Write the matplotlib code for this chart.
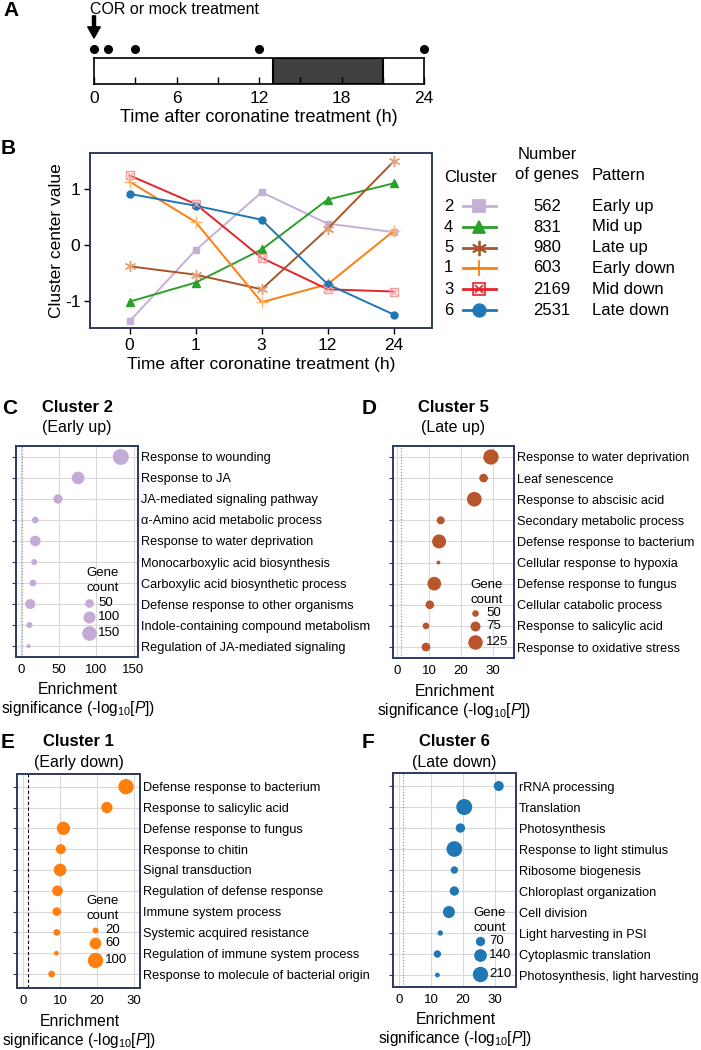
import numpy as np
import matplotlib
matplotlib.use("Agg")
import matplotlib.pyplot as plt
from matplotlib.lines import Line2D
from matplotlib.patches import Rectangle

# ---------------- data ----------------
# A: sampling scheme
sample_times = [0, 1, 3, 12, 24]
dark_period = (13, 21)
time_ticks = [0, 6, 12, 18, 24]
time_minor = [3, 9, 15, 21]

# B: cluster centre values
time_labels = ['0', '1', '3', '12', '24']
cluster_ids = ['2', '4', '5', '1', '3', '6']
cluster_ngenes = ['562', '831', '980', '603', '2169', '2531']
cluster_pattern = ['Early up', 'Mid up', 'Late up', 'Early down', 'Mid down', 'Late down']
center_c2 = [-1.36, -0.09, 0.94, 0.38, 0.23]
center_c4 = [-1.01, -0.67, -0.08, 0.81, 1.10]
center_c5 = [-0.38, -0.53, -0.79, 0.29, 1.49]
center_c1 = [1.13, 0.41, -1.02, -0.70, 0.25]
center_c3 = [1.24, 0.73, -0.23, -0.79, -0.83]
center_c6 = [0.91, 0.70, 0.45, -0.70, -1.24]

# C: cluster 2 GO terms
terms_c2 = ["Response to wounding", "Response to JA", "JA-mediated signaling pathway",
            "\u03b1-Amino acid metabolic process", "Response to water deprivation",
            "Monocarboxylic acid biosynthesis", "Carboxylic acid biosynthetic process",
            "Defense response to other organisms", "Indole-containing compound metabolism",
            "Regulation of JA-mediated signaling"]
logp_c2 = [133, 76, 49, 18.7, 18.7, 17.3, 15.6, 12, 11, 9.8]
count_c2 = [179, 111, 58, 29, 78, 22, 29, 68, 22, 8]

# D: cluster 5 GO terms
terms_c5 = ["Response to water deprivation", "Leaf senescence", "Response to abscisic acid",
            "Secondary metabolic process", "Defense response to bacterium",
            "Cellular response to hypoxia", "Defense response to fungus",
            "Cellular catabolic process", "Response to salicylic acid",
            "Response to oxidative stress"]
logp_c5 = [29.3, 27, 24.1, 13.6, 13.1, 12.9, 11.6, 10.2, 9, 9]
count_c5 = [137, 64, 128, 59, 119, 37, 115, 64, 50, 64]

# E: cluster 1 GO terms
terms_c1 = ["Defense response to bacterium", "Response to salicylic acid",
            "Defense response to fungus", "Response to chitin", "Signal transduction",
            "Regulation of defense response", "Immune system process",
            "Systemic acquired resistance", "Regulation of immune system process",
            "Response to molecule of bacterial origin"]
logp_c1 = [27.9, 22.7, 10.9, 10.2, 10, 9.3, 9.1, 9.1, 9.0, 7.7]
count_c1 = [100, 57, 77, 46, 70, 52, 36, 24, 15, 24]

# F: cluster 6 GO terms
terms_c6 = ["rRNA processing", "Translation", "Photosynthesis", "Response to light stimulus",
            "Ribosome biogenesis", "Chloroplast organization", "Cell division",
            "Light harvesting in PSI", "Cytoplasmic translation",
            "Photosynthesis, light harvesting"]
logp_c6 = [31.2, 20.4, 19.2, 17.3, 17.3, 17.3, 15.6, 12.9, 12, 12]
count_c6 = [82, 229, 70, 220, 39, 70, 124, 15, 39, 9]

# ---------------- figure ----------------
plt.rcParams['font.family'] = ['Liberation Sans', 'DejaVu Sans']
plt.rcParams['mathtext.fontset'] = 'custom'
plt.rcParams['mathtext.rm'] = 'Liberation Sans'
plt.rcParams['mathtext.it'] = 'Liberation Sans:italic'

W, H = 701, 1050
fig = plt.figure(figsize=(W / 100, H / 100), dpi=100)
NAVY = '#2b3a5e'


def px_axes(x0, y0, x1, y1):
    return fig.add_axes([x0 / W, 1 - y1 / H, (x1 - x0) / W, (y1 - y0) / H])


def ptext(x, y, s, **kw):
    kw.setdefault('va', 'center')
    return fig.text(x / W, 1 - y / H, s, **kw)


def pmark(x, y, **kw):
    fig.add_artist(Line2D([x / W], [1 - y / H], transform=fig.transFigure,
                          linestyle='none', **kw))


def pline(x0, x1, y, **kw):
    fig.add_artist(Line2D([x0 / W, x1 / W], [1 - y / H] * 2,
                          transform=fig.transFigure, **kw))


def letter(x, y, s):
    ptext(x, y, s, fontsize=15, fontweight='bold')


# ---- A ----
letter(3, 11, 'A')
axA = px_axes(94, 58, 424, 84)
axA.set_xlim(0, 24)
axA.set_ylim(0, 1)
axA.add_patch(Rectangle((dark_period[0], 0), dark_period[1] - dark_period[0], 1,
                        fc='#404040', ec='black', lw=1.5))
axA.plot(sample_times, [1.35] * len(sample_times), 'o', color='black', ms=5.5, clip_on=False)
axA.annotate('', xy=(0, 1.77), xytext=(0, 2.62),
             arrowprops=dict(facecolor='black', edgecolor='black', width=2.2,
                             headwidth=9, headlength=8, shrink=0),
             annotation_clip=False)
axA.set_xticks(time_ticks)
axA.set_xticks(time_minor, minor=True)
axA.set_yticks([])
axA.tick_params(axis='x', which='both', direction='in', length=5, width=1,
                labelsize=12.5, pad=5)
for sp in axA.spines.values():
    sp.set_linewidth(1.2)
ptext(90, 10, 'COR or mock treatment', fontsize=11.5)
ptext(259, 118, 'Time after coronatine treatment (h)', fontsize=13, ha='center')

# ---- B ----
letter(1, 148, 'B')
axB = px_axes(90, 153, 432, 328)
xpos = np.arange(len(time_labels))
series = [center_c2, center_c4, center_c5, center_c1, center_c3, center_c6]
line_col = ['#c5b0d5', '#2ca02c', '#a65628', '#ff7f0e', '#e3242b', '#1f77b4']
mark_col = ['#c5b0d5', '#2ca02c', '#e0a07a', '#ffb366', '#f4a0a0', '#1f77b4']
markers = ['s', '^', (6, 2, 0), '+', 's', 'o']
msizes = [5, 6, 8, 9, 5.5, 5]
for vals, lc, mc, mk, ms in zip(series, line_col, mark_col, markers, msizes):
    face = 'none' if lc == '#e3242b' else mc
    axB.plot(xpos, vals, color=lc, lw=1.4, marker=mk, ms=ms, mfc=face, mec=mc,
             mew=1.0, zorder=3)
    if lc == '#e3242b':
        axB.plot(xpos, vals, 'x', color=mc, ms=4.5, mew=0.9, zorder=4)
axB.set_xlim(-0.6, 4.58)
axB.set_ylim(-1.48, 1.64)
axB.set_xticks(xpos, time_labels)
axB.set_yticks([-1, 0, 1], ['-1', '0', '1'])
axB.tick_params(length=4, width=1, labelsize=12.5, pad=3, color='black')
for sp in axB.spines.values():
    sp.set_color(NAVY)
    sp.set_linewidth(1.4)
ptext(57, 241, 'Cluster center value', fontsize=12.5, rotation=90, ha='center')
ptext(261, 364, 'Time after coronatine treatment (h)', fontsize=12.5, ha='center')

# custom legend table
ptext(444, 178, 'Cluster', fontsize=12)
ptext(547, 154, 'Number', fontsize=12, ha='center')
ptext(547, 175, 'of genes', fontsize=12, ha='center')
ptext(592, 175, 'Pattern', fontsize=12)
row_y = [206, 227, 247.5, 268, 289, 310]
leg_ms = [8, 9, 11, 12, 8.5, 9]
for i, yy in enumerate(row_y):
    ptext(444, yy, cluster_ids[i], fontsize=12)
    pline(463, 496, yy, color=line_col[i], lw=2)
    mk = markers[i]
    if line_col[i] == '#e3242b':
        pmark(479, yy, marker='s', ms=leg_ms[i], mfc='none', mec=line_col[i], mew=1.2)
        pmark(479, yy, marker='x', ms=leg_ms[i] * 0.75, color=line_col[i], mew=1.2)
    else:
        pmark(479, yy, marker=mk, ms=leg_ms[i], color=line_col[i], mew=1.3)
    ptext(533, yy, cluster_ngenes[i], fontsize=12)
    ptext(592, yy, cluster_pattern[i], fontsize=12)


# ---- C-F ----
def enrich_panel(box, terms, logp, counts, color, d2, ylim, xlim, xticks,
                 cutoff, title, subtitle, title_y, leg):
    x0, y0, x1, y1 = box
    ax = px_axes(*box)
    yy = np.arange(len(terms))
    s = (d2[0] + d2[1] * np.asarray(counts, dtype=float)) * 0.72 ** 2
    ax.scatter(logp, yy, s=s, color=color, linewidths=0, zorder=3)
    ax.set_ylim(*ylim)
    ax.set_xlim(*xlim)
    ax.set_yticks(yy, terms)
    ax.set_xticks(xticks)
    ax.grid(True, color='#d9d9d9', lw=0.8)
    ax.set_axisbelow(True)
    ax.axvline(1.3, zorder=2, **cutoff)
    ax.tick_params(axis='y', left=True, right=False, labelleft=False, labelright=True,
                   length=3, color=NAVY, pad=-0.7, labelsize=9.2)
    ax.tick_params(axis='x', length=0, pad=5, labelsize=9.5)
    for sp in ax.spines.values():
        sp.set_color(NAVY)
        sp.set_linewidth(1.4)
    cx = (x0 + x1) / 2
    ptext(cx, title_y, title, fontsize=12, fontweight='bold', ha='center')
    ptext(cx, title_y + 20, subtitle, fontsize=11.5, ha='center')
    ptext(cx + 1, y1 + 33, 'Enrichment', fontsize=11.3, ha='center')
    ptext(cx + 1, y1 + 52, 'significance (-log$_{10}$[$P$])', fontsize=11.2, ha='center')
    # gene count legend
    ptext(leg['tx'], leg['ty'], 'Gene', fontsize=9.5, ha='center')
    ptext(leg['tx'], leg['ty'] + 15, 'count', fontsize=9.5, ha='center')
    for c, ly in zip(leg['counts'], leg['ys']):
        d = np.sqrt((d2[0] + d2[1] * c) * 0.72 ** 2)
        pmark(leg['mx'], ly, marker='o', ms=d, color=color, mew=0)
        ptext(leg['lx'], ly, str(c), fontsize=9.5)
    return ax


dotted = dict(color='#8a8a8a', lw=0.8, ls=':')
dashed = dict(color='black', lw=0.8, ls=(0, (3, 2)))

letter(2, 408, 'C')
enrich_panel((16, 446, 138, 657), terms_c2, logp_c2, count_c2, '#c4aad6', (5, 1.4),
             (9.52, -0.52), (-7, 156), [0, 50, 100, 150], dotted,
             'Cluster 2', '(Early up)', 408,
             dict(tx=103, ty=573, mx=89, lx=98, counts=[50, 100, 150], ys=[603, 617, 633]))

letter(362, 408, 'D')
enrich_panel((393, 446, 514, 658), terms_c5, logp_c5, count_c5, '#b9552a', (-66, 2.2),
             (9.52, -0.52), (-1.3, 36.5), [0, 10, 20, 30], dotted,
             'Cluster 5', '(Late up)', 407,
             dict(tx=487, ty=585, mx=475, lx=486, counts=[50, 75, 125], ys=[613, 626, 642]))

letter(1, 742, 'E')
enrich_panel((17, 774, 140, 988), terms_c1, logp_c1, count_c1, '#ff7f0e', (-15, 2.5),
             (9.67, -0.61), (-1.7, 31.7), [0, 10, 20, 30], dashed,
             'Cluster 1', '(Early down)', 742,
             dict(tx=103, ty=901, mx=95, lx=105, counts=[20, 60, 100], ys=[930, 943, 960]))

letter(362, 742, 'F')
enrich_panel((393, 773, 516, 987), terms_c6, logp_c6, count_c6, '#1f77b4', (13, 1.06),
             (9.57, -0.62), (-1.9, 36.6), [0, 10, 20, 30], dotted,
             'Cluster 6', '(Late down)', 742,
             dict(tx=490, ty=913, mx=480, lx=489, counts=[70, 140, 210], ys=[941, 955, 974]))

fig.savefig('out.png', dpi=100)
